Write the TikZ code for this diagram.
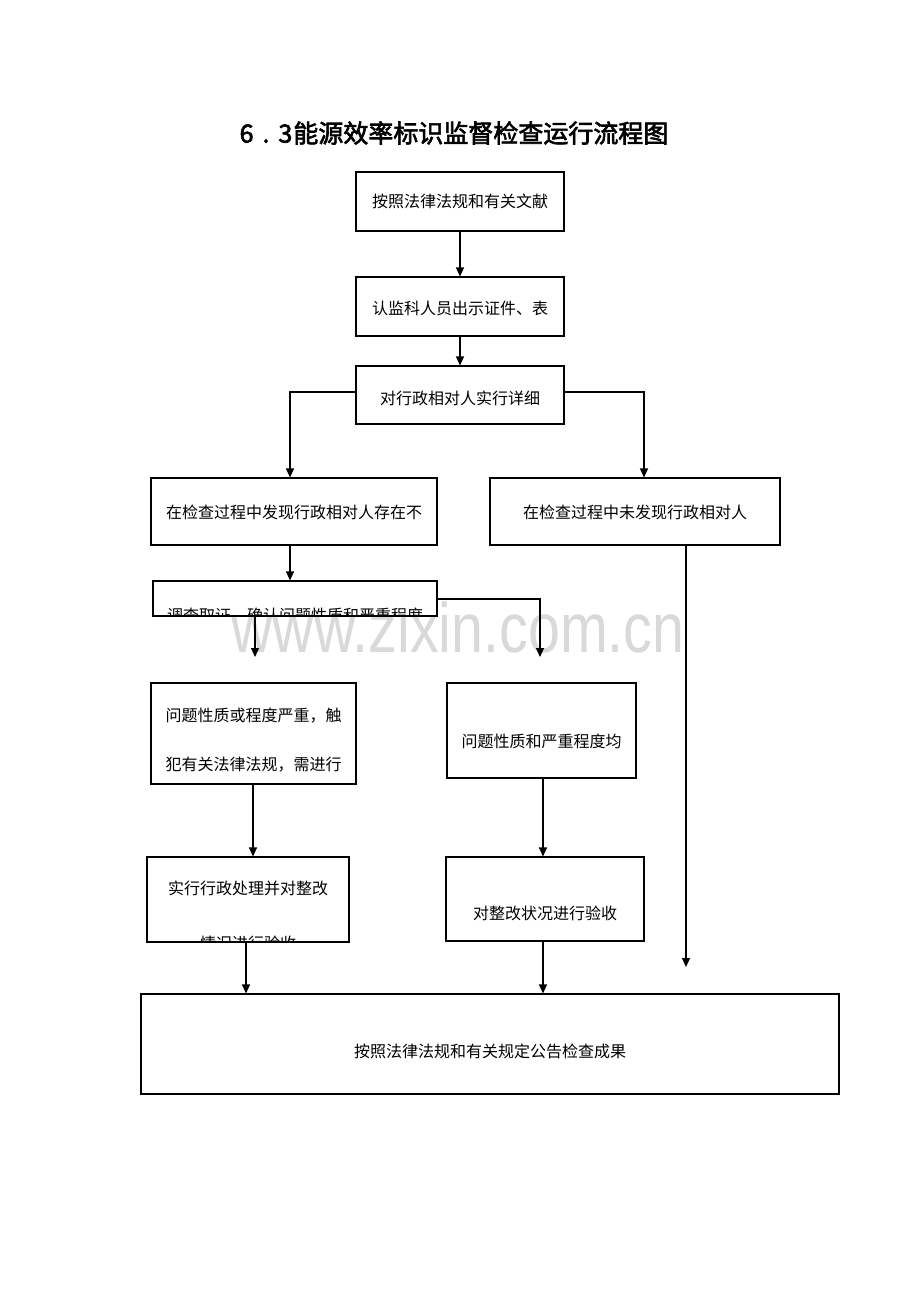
\documentclass[tikz,border=0pt]{standalone}
\usepackage{fontspec}
\newfontfamily\cjk{Noto Sans CJK SC}
\newfontfamily\cjkb[FakeBold=2.5]{Noto Sans CJK SC}
\newfontfamily\wmfont{Liberation Sans}
\usetikzlibrary{arrows.meta}
\begin{document}
\begin{tikzpicture}[x=1pt,y=-1pt,
  box/.style={draw=black, line width=1.1pt, fill=white, inner sep=0pt},
  arr/.style={draw=black, line width=1.1pt, -{Triangle[length=9pt,width=8pt]}},
  txt/.style={font=\cjk\fontsize{16}{18}\selectfont, inner sep=0pt},
  intext/.style 2 args={path picture={\node[txt, align=center] at ([yshift=#1]path picture bounding box.center) {#2};}},
]
\useasboundingbox[fill=white] (0,0) rectangle (920,1302);

% watermark
\node[anchor=base, inner sep=0pt, text=black!15, font=\wmfont\fontsize{70}{70}\selectfont] (wm) at (458,652) {\scalebox{0.82}[1]{www.zixin.com.cn}};

% title
\node[font=\cjkb\fontsize{25}{28}\selectfont, inner sep=0pt] (title) at (454,133) {6\hspace{9pt}.\hspace{9pt}3\hspace{1pt}能源效率标识监督检查运行流程图};

% boxes
\node[box, minimum width=208pt, minimum height=59pt, intext={0pt}{按照法律法规和有关文献}] (b1) at (460,201.5) {};
\node[box, minimum width=208pt, minimum height=59pt, intext={-1.5pt}{认监科人员出示证件、表}] (b2) at (460,306.5) {};
\node[box, minimum width=208pt, minimum height=58pt, intext={-3pt}{对行政相对人实行详细}] (b3) at (460,395) {};
\node[box, minimum width=286pt, minimum height=67pt, intext={-1pt}{在检查过程中发现行政相对人存在不}] (b4) at (294,511.5) {};
\node[box, minimum width=290pt, minimum height=67pt, intext={-1pt}{在检查过程中未发现行政相对人}] (b5) at (635,511.5) {};
\node[box, minimum width=284pt, minimum height=35pt, intext={-17pt}{调查取证，确认问题性质和严重程度}] (b6) at (295,598.5) {};
\node[box, minimum width=205pt, minimum height=101pt, intext={-7pt}{问题性质或程度严重，触\\[31pt]犯有关法律法规，需进行}] (b7) at (253.5,733.5) {};
\node[box, minimum width=189pt, minimum height=95pt, intext={-10.5pt}{问题性质和严重程度均}] (b8) at (541.5,730.5) {};
\node[box, minimum width=202pt, minimum height=85pt, intext={-16pt}{实行行政处理并对整改\\[37pt]情况进行验收}] (b9) at (248,899.5) {};
\node[box, minimum width=198pt, minimum height=84pt, intext={-14pt}{对整改状况进行验收}] (b10) at (545,899) {};
\node[box, minimum width=698pt, minimum height=100pt, intext={-7pt}{按照法律法规和有关规定公告检查成果}] (b11) at (490,1044) {};

% free ends
\coordinate (c1) at (255,657);
\coordinate (c2) at (540,657);
\coordinate (c3) at (686,967);

% connectors
\draw[arr] (b1) -- (b2);
\draw[arr] (b2) -- (b3);
\draw[arr] ([yshift=3pt]b3.west) -| ([xshift=-4pt]b4.north);
\draw[arr] ([yshift=3pt]b3.east) -| ([xshift=9pt]b5.north);
\draw[arr] ([xshift=-4pt]b4.south) -- ([xshift=-5pt]b6.north);
\draw[arr] (b6.south -| c1) -- (c1);
\draw[arr] ([yshift=-0.5pt]b6.east) -| (c2);
\draw[arr] ([xshift=-0.5pt]b7.south) -- ([xshift=-0.5pt]b7.south |- b9.north);
\draw[arr] ([xshift=1.5pt]b8.south) -- ([xshift=1.5pt]b8.south |- b10.north);
\draw[arr] (b5.south -| c3) -- (c3);
\draw[arr] ([xshift=-2pt]b9.south) -- ([xshift=-2pt]b9.south |- b11.north);
\draw[arr] ([xshift=-2pt]b10.south) -- ([xshift=-2pt]b10.south |- b11.north);
\end{tikzpicture}
\end{document}
